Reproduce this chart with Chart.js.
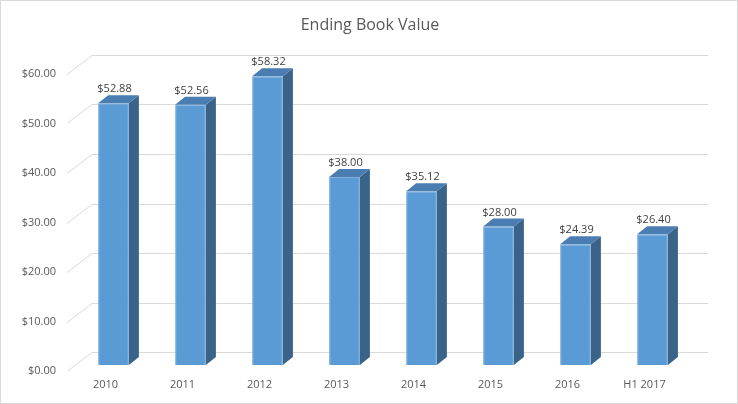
<!DOCTYPE html>
<html>
<head>
<meta charset="utf-8">
<script src="https://cdn.jsdelivr.net/npm/chart.js@4"></script>
<style>
  html, body { margin: 0; padding: 0; background: #fff; }
  #wrap { width: 738px; height: 404px; }
</style>
</head>
<body>
<div id="wrap"><canvas id="bookChart" width="738" height="404"></canvas></div>
<script>
// chart data
var years = ['2010', '2011', '2012', '2013', '2014', '2015', '2016', 'H1 2017'];
var bookValues = [52.88, 52.56, 58.32, 38.00, 35.12, 28.00, 24.39, 26.40];
var yTicks = [0, 10, 20, 30, 40, 50, 60];
var chartTitle = 'Ending Book Value';

// 3d offsets relative to the bar plane
var backDx = 17, backDy = -13;
var frontDx = -8, frontDy = 6;
var depthDx = 10, depthDy = -8;

function money(v) { return '$' + v.toFixed(2); }

const fakeThreeD = {
    id: 'fakeThreeD',
    beforeDraw(chart) {
        const c = chart.ctx;
        c.save();
        c.fillStyle = '#ffffff';
        c.fillRect(0, 0, chart.width, chart.height);
        c.strokeStyle = '#D9D9D9';
        c.lineWidth = 1;
        c.strokeRect(0.5, 0.5, chart.width - 1, chart.height - 1);

        // title
        c.fillStyle = '#595959';
        c.font = '16px "Open Sans"';
        c.textAlign = 'center';
        c.textBaseline = 'alphabetic';
        c.fillText(chartTitle, 370, 30);
        c.restore();
    },
    beforeDatasetsDraw(chart) {
        const c = chart.ctx;
        const ca = chart.chartArea;
        const ys = chart.scales.y, xs = chart.scales.x;
        c.save();
        c.strokeStyle = '#D9D9D9';
        c.lineWidth = 1;
        yTicks.forEach(function(v) {
            var yb = Math.round(ys.getPixelForValue(v)) + 0.5;
            c.beginPath();
            c.moveTo(ca.left + frontDx, yb + frontDy);
            c.lineTo(ca.left + backDx, yb + backDy);
            c.lineTo(ca.right + backDx, yb + backDy);
            c.stroke();
        });

        c.fillStyle = '#595959';
        c.font = '11px "Open Sans"';
        c.textAlign = 'right';
        c.textBaseline = 'middle';
        yTicks.forEach(function(v) {
            c.fillText(money(v), 56, ys.getPixelForValue(v) + frontDy);
        });

        c.textAlign = 'center';
        years.forEach(function(lab, i) {
            c.fillText(lab, xs.getPixelForValue(i) + frontDx, 385);
        });
        c.restore();
    },
    afterDatasetsDraw(chart) {
        const c = chart.ctx;
        const meta = chart.getDatasetMeta(0);
        c.save();
        meta.data.forEach(function(bar, i) {
            var p = bar.getProps(['x', 'y', 'base', 'width'], true);
            var l = p.x - p.width / 2, r = p.x + p.width / 2;
            // side face
            c.fillStyle = '#3A6389';
            c.beginPath();
            c.moveTo(r, p.y);
            c.lineTo(r + depthDx, p.y + depthDy);
            c.lineTo(r + depthDx, p.base + depthDy);
            c.lineTo(r, p.base);
            c.closePath();
            c.fill();
            // top face
            c.fillStyle = '#4A7DB1';
            c.beginPath();
            c.moveTo(l, p.y);
            c.lineTo(l + depthDx, p.y + depthDy);
            c.lineTo(r + depthDx, p.y + depthDy);
            c.lineTo(r, p.y);
            c.closePath();
            c.fill();

            c.fillStyle = '#404040';
            c.font = '11px "Open Sans"';
            c.textAlign = 'center';
            c.textBaseline = 'middle';
            c.fillText(money(bookValues[i]), p.x + 1, p.y - 14);
        });
        c.restore();
    }
};

var config = {
    type: 'bar',
    data: {
        labels: years,
        datasets: [{
            label: chartTitle,
            data: bookValues,
            backgroundColor: '#5B9BD5',
            borderColor: '#7FB0DE',
            borderWidth: 1,
            barPercentage: 0.4,
            categoryPercentage: 1.0
        }]
    },
    options: {
        responsive: false,
        animation: false,
        layout: {
            padding: { left: 75, right: 47, top: 68, bottom: 39 }
        },
        plugins: {
            legend: { display: false },
            title: { display: false },
            tooltip: { enabled: false }
        },
        scales: {
            x: { display: false, offset: true },
            y: { display: false, min: 0, max: 60 }
        }
    },
    plugins: [fakeThreeD]
};

new Chart(document.getElementById('bookChart'), config);
</script>
</body>
</html>
